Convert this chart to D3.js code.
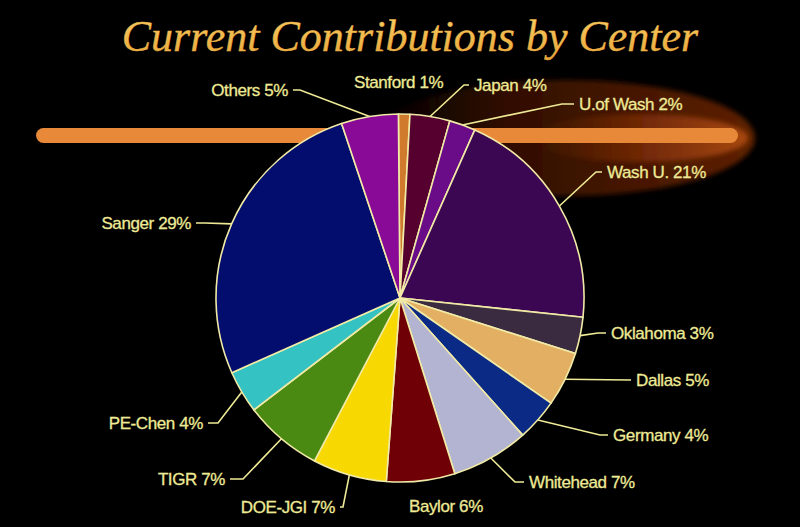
<!DOCTYPE html>
<html>
<head>
<meta charset="utf-8">
<script src="https://cdn.jsdelivr.net/npm/d3@7"></script>
<style>
  body { margin: 0; background: #000; }
  svg { display: block; }
</style>
</head>
<body>
<div id="chart"></div>
<script>
// slice data, clockwise from the top
var centers = ["Stanford", "Japan", "U.of Wash", "Wash U.", "Oklahoma", "Dallas", "Germany",
               "Whitehead", "Baylor", "DOE-JGI", "TIGR", "PE-Chen", "Sanger", "Others"];
// printed percentages
var printedPct = [1, 4, 2, 21, 3, 5, 4, 7, 6, 7, 7, 4, 29, 5];
// slice sizes (printed labels sum to 105)
var shares = [1, 3.5, 2.3, 20, 3.2, 4.8, 3.7, 6.8, 6, 6.5, 6.9, 3.75, 26.5, 5];
var colors = ["#cf7a2c", "#560030", "#6a0c88", "#3c0752", "#3b2b40", "#e3b063", "#0b2a86",
              "#b3b4d2", "#6e0006", "#f7d800", "#4a8a12", "#34c2c2", "#020d6e", "#8a0a98"];

// label layout: text anchor point, anchor side, and elbow point of the leader (null = no line)
var labelLayout = [
  {x: 352, y: 82, a: "start", elbow: null},
  {x: 472, y: 85, a: "start", elbow: [464, 85]},
  {x: 577, y: 104, a: "start", elbow: [562, 104]},
  {x: 605, y: 172, a: "start", elbow: [596, 172]},
  {x: 609, y: 333, a: "start", elbow: [598, 333]},
  {x: 634, y: 380, a: "start", elbow: [630, 380]},
  {x: 611, y: 435, a: "start", elbow: [600, 435]},
  {x: 527, y: 482, a: "start", elbow: [515, 482]},
  {x: 407, y: 506, a: "start", elbow: null},
  {x: 337, y: 507, a: "end", elbow: [343, 507]},
  {x: 227, y: 479, a: "end", elbow: [243, 479]},
  {x: 205, y: 423, a: "end", elbow: [218, 423]},
  {x: 193, y: 223, a: "end", elbow: [205, 223]},
  {x: 290, y: 90, a: "end", elbow: [300, 90]}
];

var width = 800, height = 527;
var cx = 400, cy = 298, radius = 184;

var svg = d3.select("#chart").append("svg")
    .attr("width", width)
    .attr("height", height);

svg.append("rect").attr("width", width).attr("height", height).attr("fill", "#000");

var defs = svg.append("defs");

var titleGrad = defs.append("linearGradient").attr("id", "titleGrad")
    .attr("x1", 0).attr("y1", 0).attr("x2", 0).attr("y2", 1);
titleGrad.append("stop").attr("offset", "0%").attr("stop-color", "#fad066");
titleGrad.append("stop").attr("offset", "100%").attr("stop-color", "#e9a536");

//outer glow, fading out to the left
var glowGrad = defs.append("linearGradient").attr("id", "glowGrad")
    .attr("x1", 0).attr("y1", 0).attr("x2", 1).attr("y2", 0);
glowGrad.append("stop").attr("offset", "0%").attr("stop-color", "#3a1000").attr("stop-opacity", 0);
glowGrad.append("stop").attr("offset", "35%").attr("stop-color", "#3e1203").attr("stop-opacity", 0.8);
glowGrad.append("stop").attr("offset", "100%").attr("stop-color", "#5e2006").attr("stop-opacity", 1);

//inner glow
var innerGrad = defs.append("linearGradient").attr("id", "innerGrad")
    .attr("x1", 0).attr("y1", 0).attr("x2", 1).attr("y2", 0);
innerGrad.append("stop").attr("offset", "0%").attr("stop-color", "#6a2406").attr("stop-opacity", 0);
innerGrad.append("stop").attr("offset", "50%").attr("stop-color", "#7a2c08").attr("stop-opacity", 0.8);
innerGrad.append("stop").attr("offset", "100%").attr("stop-color", "#a8480c").attr("stop-opacity", 1);

var blur = defs.append("filter").attr("id", "blur")
    .attr("x", "-20%").attr("y", "-50%").attr("width", "140%").attr("height", "200%");
blur.append("feGaussianBlur").attr("stdDeviation", 2.5);

svg.append("ellipse")
    .attr("cx", 565).attr("cy", 138).attr("rx", 190).attr("ry", 58)
    .attr("fill", "url(#glowGrad)")
    .attr("filter", "url(#blur)");
svg.append("ellipse")
    .attr("cx", 640).attr("cy", 138).attr("rx", 108).attr("ry", 24)
    .attr("fill", "url(#innerGrad)")
    .attr("filter", "url(#blur)");

//the streak
svg.append("rect")
    .attr("x", 36).attr("y", 128).attr("width", 702).attr("height", 15)
    .attr("rx", 7.5)
    .attr("fill", "#e8893a");

//title
svg.append("text")
    .attr("x", 410).attr("y", 51)
    .attr("text-anchor", "middle")
    .attr("font-family", "'Liberation Serif', 'DejaVu Serif', serif")
    .attr("font-style", "italic")
    .attr("font-size", 44)
    .attr("fill", "url(#titleGrad)")
    .attr("stroke", "#eab048")
    .attr("stroke-width", 0.4)
    .text("Current Contributions by Center");

//pie
var data = centers.map(function(c, i) {
    return {name: c, pct: printedPct[i], share: shares[i], color: colors[i], layout: labelLayout[i]};
});

var startA = -0.5 * Math.PI / 180;
var pie = d3.pie().sort(null).value(d => d.share)
    .startAngle(startA).endAngle(startA + 2 * Math.PI);

var arc = d3.arc().innerRadius(0).outerRadius(radius);
var edgeArc = d3.arc().innerRadius(radius).outerRadius(radius);

var chartGroup = svg.append("g").attr("transform", `translate(${cx}, ${cy})`);

var arcs = pie(data);

chartGroup.selectAll("path.slice")
    .data(arcs)
    .enter()
    .append("path")
    .classed("slice", true)
    .attr("d", arc)
    .attr("fill", d => d.data.color)
    .attr("stroke", "#f1eaa6")
    .attr("stroke-width", 1.6)
    .attr("stroke-linejoin", "round");

//leader lines
var labelColor = "#eeea96";
svg.selectAll("polyline.leader")
    .data(arcs.filter(d => d.data.layout.elbow))
    .enter()
    .append("polyline")
    .classed("leader", true)
    .attr("points", function(d) {
        var e = edgeArc.centroid(d);
        var L = d.data.layout;
        var tx = L.a === "start" ? L.x - 3 : L.x + 3;
        return [[e[0] + cx, e[1] + cy], L.elbow, [tx, L.y]].map(p => p.join(",")).join(" ");
    })
    .attr("fill", "none")
    .attr("stroke", labelColor)
    .attr("stroke-width", 1.6);

//labels
svg.selectAll("text.label")
    .data(arcs)
    .enter()
    .append("text")
    .classed("label", true)
    .attr("x", d => d.data.layout.a === "start" ? d.data.layout.x + 2 : d.data.layout.x - 2)
    .attr("y", d => d.data.layout.y)
    .attr("dy", "0.36em")
    .attr("text-anchor", d => d.data.layout.a)
    .attr("font-family", "'Liberation Sans', Arial, sans-serif")
    .attr("font-size", 17)
    .attr("letter-spacing", -0.4)
    .attr("fill", labelColor)
    .attr("stroke", labelColor)
    .attr("stroke-width", 0.3)
    .text(d => `${d.data.name} ${d.data.pct}%`);
</script>
</body>
</html>
